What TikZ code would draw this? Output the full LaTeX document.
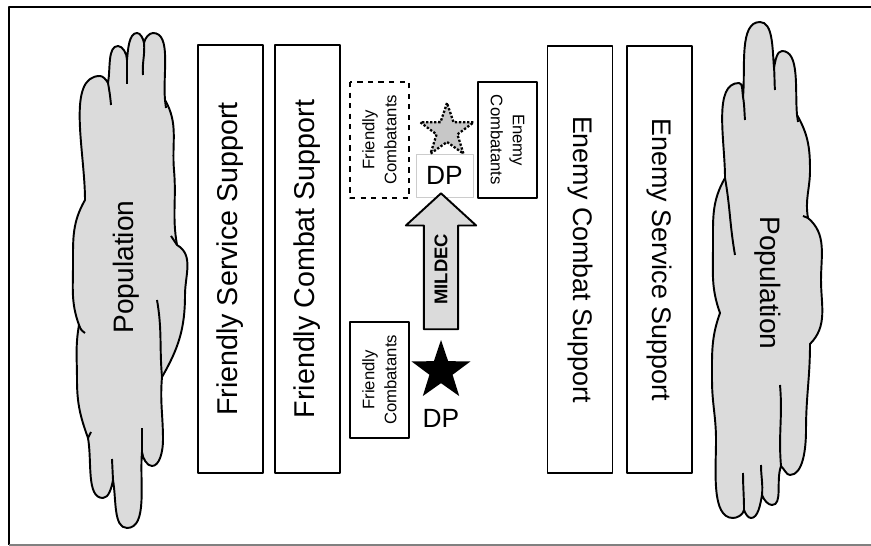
\documentclass[tikz,border=0pt]{standalone}
\usepackage{fontspec}
\setmainfont{Liberation Sans}
\usepackage{xcolor}
\usetikzlibrary{positioning,shapes.geometric,shapes.arrows}

\definecolor{cloudgray}{gray}{0.86}
\definecolor{stargray}{gray}{0.78}

\begin{document}
\begin{tikzpicture}[x=0.02cm, y=0.02cm, line join=round,
  bigbox/.style={draw, line width=1.1pt, minimum width=8.56cm, minimum height=1.3cm, inner sep=0pt},
  smallbox/.style={draw, line width=1.1pt, minimum width=2.32cm, minimum height=1.18cm, inner sep=0pt, align=center, font=\fontsize{9.5}{12.5}\selectfont},
  crowd/.style={draw, line width=1.1pt, fill=cloudgray},
  rise/.style={in looseness=0.7},
  fall/.style={out looseness=0.7},
  dpstar/.style={star, star points=5, star point ratio=2.55, inner sep=0pt},
  dplabel/.style={inner sep=0pt, font=\fontsize{15}{18}\selectfont}]
\useasboundingbox (0,0) rectangle (871,-546);
\draw[line width=1.6pt] (871,-7) -- (9,-7) -- (9,-545);
\draw[gray, line width=0.8pt] (9,-545) -- (871,-545);

\draw[crowd] (85,-200) to[out=90,in=180,rise] (100,-76) to[out=0,in=120,fall] (108,-83)
  to[out=80,in=180,rise] (118,-46) to[out=0,in=90,fall] (127,-60)
  to[out=85,in=180,rise] (137,-33) to[out=0,in=100,fall] (144,-43)
  to[out=80,in=180,rise] (153,-33) to[out=0,in=95,fall] (165,-100)
  to[out=-60,in=95] (174,-170) to[out=-85,in=100] (177,-245)
  to[out=-30,in=90] (185,-295) to[out=-90,in=60] (162,-377)
  to[out=-95,in=90] (163,-440) to[out=-90,in=0,rise] (152,-466) to[out=180,in=-85,fall] (142,-452)
  to[out=-95,in=0,rise] (127,-528) to[out=180,in=-80,fall] (113,-480)
  to[out=-100,in=0,rise] (103,-498) to[out=180,in=-80,fall] (88,-438)
  to[out=110,in=-90] (77,-380) to[out=90,in=-100] (79,-325)
  to[out=110,in=-90] (73,-265) to[out=90,in=-120] (85,-200) -- cycle;
\draw[line width=1.1pt] (108,-83) to[out=-80,in=95] (111,-105);
\draw[line width=1.1pt] (127,-60) to[out=-90,in=90] (127,-84);
\draw[line width=1.1pt] (144,-43) to[out=-85,in=95] (143,-75);
\draw[line width=1.1pt] (165,-100) -- (166,-108);
\draw[line width=1.1pt] (177,-245) .. controls (174,-240) .. (171,-236);
\draw[line width=1.1pt] (162,-377) to[out=95,in=-80] (157,-300);
\draw[line width=1.1pt] (142,-452) -- (142,-428);
\draw[line width=1.1pt] (113,-480) -- (112,-459);
\draw[line width=1.1pt] (88,-438) -- (91,-432);
\draw[line width=1.1pt] (79,-325) .. controls (81,-330) .. (85,-333);
\node[rotate=90, font=\fontsize{16}{19}\selectfont] (popL) at (126,-267) {Population};

\draw[crowd] (725,-178) to[out=90,in=180,rise] (739,-83) to[out=0,in=100,fall] (743,-97)
  to[out=85,in=180,rise] (760,-22) to[out=0,in=95,fall] (774,-68)
  to[out=80,in=180,rise] (782,-51) to[out=0,in=95,fall] (797,-115)
  to[out=-60,in=90] (810,-170) to[out=-90,in=100] (808,-218)
  to[out=-40,in=90] (821,-280) to[out=-90,in=45] (810,-344)
  to[out=-90,in=90] (806,-430) to[out=-90,in=0,rise] (790,-475) to[out=180,in=-45,fall] (781,-466)
  to[out=-110,in=0,rise] (772,-505) to[out=180,in=-70,fall] (762,-495)
  to[out=-100,in=0,rise] (751,-518) to[out=180,in=-70,fall] (744,-510)
  to[out=-100,in=0,rise] (733,-518) to[out=180,in=-90,fall] (716,-440)
  to[out=90,in=-90] (712,-380) to[out=90,in=-110] (720,-313)
  to[out=110,in=-90] (713,-245) to[out=90,in=-120] (725,-178) -- cycle;
\draw[line width=1.1pt] (743,-97) to[out=-80,in=95] (745,-120);
\draw[line width=1.1pt] (774,-68) to[out=-85,in=95] (775,-90);
\draw[line width=1.1pt] (797,-115) -- (798,-122);
\draw[line width=1.1pt] (725,-178) to[out=-80,in=100] (735,-255);
\draw[line width=1.1pt] (808,-218) -- (803,-216);
\draw[line width=1.1pt] (781,-466) to[out=95,in=-85] (780,-385);
\draw[line width=1.1pt] (762,-495) to[out=85,in=-90] (761,-465);
\draw[line width=1.1pt] (744,-510) to[out=90,in=-90] (743,-473);
\node[rotate=-90, font=\fontsize{16}{19}\selectfont] (popR) at (768,-283) {Population};

\node[bigbox, rotate=90, font=\fontsize{16.3}{19}\selectfont] (fss) at (230.5,-259) {Friendly Service Support};
\node[bigbox, rotate=90, font=\fontsize{16.3}{19}\selectfont] (fcs) at (307.5,-259) {Friendly Combat Support};
\node[bigbox, rotate=-90, font=\fontsize{15.3}{18}\selectfont] (ecs) at (580,-259.5) {Enemy Combat Support};
\node[bigbox, rotate=-90, font=\fontsize{15.3}{18}\selectfont] (ess) at (659.5,-259.5) {Enemy Service Support};

\node[smallbox, dashed, rotate=90] (fcTop) at (379.5,-140) {Friendly\\Combatants};
\node[smallbox, rotate=-90] (ecTop) at (507.5,-140) {Enemy\\Combatants};
\node[smallbox, rotate=90] (fcBot) at (379.5,-380) {Friendly\\Combatants};

\node[dplabel, draw=gray!40, line width=0.4pt, minimum width=1.14cm, minimum height=0.86cm] (dpTop) at (444.5,-175.5) {DP};
\node[dpstar, draw, densely dotted, line width=1.3pt, fill=stargray, minimum size=1.12cm] (starTop) at (447,-131) {};

\node[single arrow, draw, line width=1.1pt, fill=cloudgray, rotate=90, anchor=tip, minimum height=2.72cm, minimum width=1.4cm, single arrow head extend=0.36cm, single arrow tip angle=95, inner xsep=2pt, inner ysep=5.5pt, font=\bfseries\fontsize{10.5}{12}\selectfont] (mildec) at (441,-192) {MILDEC};

\node[dpstar, fill=black, minimum size=1.24cm] (starBot) at (441,-371) {};
\node[dplabel] (dpBot) at (441,-418) {DP};
\end{tikzpicture}
\end{document}
